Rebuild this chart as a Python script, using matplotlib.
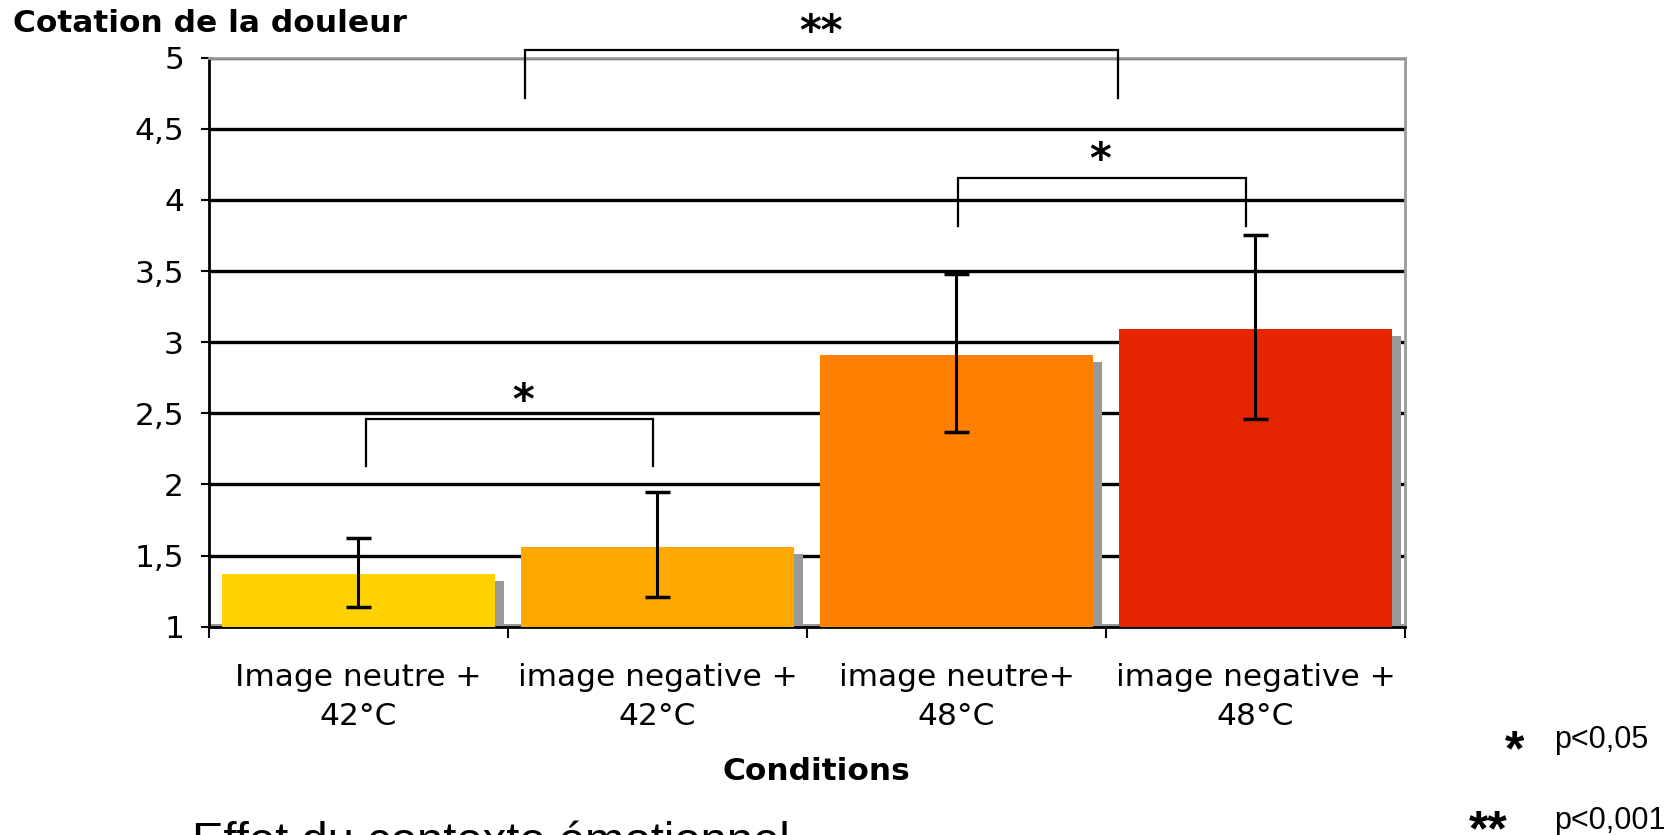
import matplotlib
matplotlib.use("Agg")
import matplotlib.pyplot as plt
import numpy as np

# ---- data ----
categories = ["Image neutre +\n42°C", "image negative +\n42°C",
              "image neutre+\n48°C", "image negative +\n48°C"]
means = [1.37, 1.56, 2.91, 3.09]
err_low = [1.14, 1.21, 2.37, 2.46]
err_high = [1.62, 1.95, 3.48, 3.75]
bar_colors = ["#FFD200", "#FFA800", "#FF7F00", "#E52500"]
yticks = [1, 1.5, 2, 2.5, 3, 3.5, 4, 4.5, 5]
ytick_labels = ["1", "1,5", "2", "2,5", "3", "3,5", "4", "4,5", "5"]
# significance brackets: (x_left, x_right, y_top, y_bottom, label, label_x, label_y)
brackets = [
    (0.026, 0.986, 2.463, 2.126, "*", 0.55, 2.58),
    (2.004, 2.967, 4.151, 3.814, "*", 2.48, 4.27),
    (0.557, 2.540, 5.052, 4.715, "**", 1.547, 5.17),
]

W, H = 1674, 835
fig = plt.figure(figsize=(W / 100, H / 100), dpi=100)
ax = fig.add_axes([209 / W, 1 - 626.7 / H, (1405 - 209) / W, (626.7 - 57.6) / H])

x = np.arange(len(categories))
bw = 0.91

ax.set_xlim(-0.5, 3.5)
ax.set_ylim(1, 5)

# gridlines
for yv in yticks[1:]:
    ax.axhline(yv, color="black", lw=2.4, zorder=1)
# floor
ax.bar(x, 0.02, width=1.0, bottom=1, color="#999999", zorder=1.5)
# shadows
ax.bar(x + 0.03, np.array(means) - 1 - 0.049, width=bw, bottom=1,
       color="#999999", zorder=2)
# bars
ax.bar(x, np.array(means) - 1, width=bw, bottom=1, color=bar_colors, zorder=3)
# error bars
yerr = [np.array(means) - np.array(err_low), np.array(err_high) - np.array(means)]
ax.errorbar(x, means, yerr=yerr, fmt="none", ecolor="black", elinewidth=2.2,
            capsize=9, capthick=2.5, zorder=4)

# spines
for s in ["top", "right"]:
    ax.spines[s].set_color("#999999")
    ax.spines[s].set_linewidth(2)
for s in ["left", "bottom"]:
    ax.spines[s].set_color("black")
    ax.spines[s].set_linewidth(2)

ax.set_yticks(yticks)
ax.set_yticklabels(ytick_labels, fontsize=22.5)
ax.tick_params(axis="y", direction="out", length=6, width=1.5, pad=12)
ax.set_xticks(x)
ax.set_xticklabels(categories, fontsize=22.5, linespacing=1.45)
ax.tick_params(axis="x", which="major", length=0, pad=26)
ax.set_xticks(np.arange(-0.5, 4, 1), minor=True)
ax.tick_params(axis="x", which="minor", direction="out", length=8, width=1.5)

# brackets
for xl, xr, yt, yb, lab, lx, ly in brackets:
    ax.plot([xl, xl, xr, xr], [yb, yt, yt, yb], color="black", lw=1.6,
            zorder=5, clip_on=False, solid_joinstyle="miter")
    ax.text(lx, ly, lab, fontsize=30, fontweight="bold", ha="center",
            va="center", zorder=6, clip_on=False)

# titles
fig.text(13 / W, 1 - 23 / H, "Cotation de la douleur", fontsize=22.5,
         fontweight="bold", ha="left", va="center")
fig.text(816 / W, 1 - 772 / H, "Conditions", fontsize=22.5,
         fontweight="bold", ha="center", va="center")
fig.text(192 / W, 1 - 855 / H, "Effet du contexte émotionnel", fontsize=34,
         family="Liberation Sans", ha="left", va="baseline")

# legend of significance
fig.text(1515 / W, 1 - 752 / H, "*", fontsize=36, fontweight="bold",
         family="Liberation Sans", ha="center", va="center")
fig.text(1554 / W, 1 - 748 / H, "p<0,05", fontsize=22,
         family="Liberation Sans", ha="left", va="baseline")
fig.text(1488 / W, 1 - 832 / H, "**", fontsize=36, fontweight="bold",
         family="Liberation Sans", ha="center", va="center")
fig.text(1554 / W, 1 - 829 / H, "p<0,001", fontsize=22,
         family="Liberation Sans", ha="left", va="baseline")

fig.savefig("out.png", dpi=100)
